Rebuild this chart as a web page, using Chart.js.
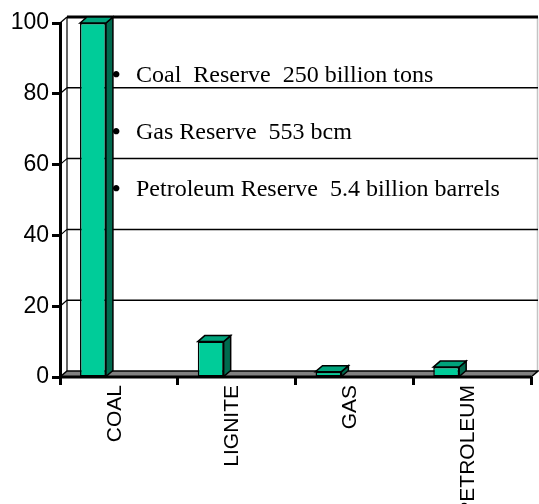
<!DOCTYPE html>
<html>
<head>
<meta charset="utf-8">
<script src="https://cdn.jsdelivr.net/npm/chart.js@4/dist/chart.umd.min.js"></script>
<style>
  html, body { margin: 0; padding: 0; background: #fff; }
  #wrap { width: 539px; height: 504px; }
</style>
</head>
<body>
<div id="wrap"><canvas id="reserves-chart"></canvas></div>
<script>
// Energy reserves - column chart drawn with a 3D look

const categories = ['COAL', 'LIGNITE', 'GAS', 'PETROLEUM'];
const reserveShare = [100, 10, 1.5, 2.8];
const spacer = [null, null, null, null];
const yTickValues = [0, 20, 40, 60, 80, 100];
const reserveNotes = [
    'Coal  Reserve  250 billion tons',
    'Gas Reserve  553 bcm',
    'Petroleum Reserve  5.4 billion barrels'
];

// depth of the fake 3D box
const DEPTH_X = 7;
const DEPTH_Y = -6;

function polygon(ctx, pts, fill, stroke, width) {
    ctx.beginPath();
    ctx.moveTo(pts[0][0], pts[0][1]);
    for (let i = 1; i < pts.length; i++) ctx.lineTo(pts[i][0], pts[i][1]);
    ctx.closePath();
    if (fill) {
        ctx.fillStyle = fill;
        ctx.fill();
    }
    if (stroke) {
        ctx.strokeStyle = stroke;
        ctx.lineWidth = width;
        ctx.stroke();
    }
}

// side wall, back wall grid lines and the floor
const wallsPlugin = {
    id: 'walls3d',
    beforeDatasetsDraw(chart) {
        const { ctx, chartArea: a, scales: { y } } = chart;
        const backLeft = a.left + DEPTH_X;
        const backRight = a.right + DEPTH_X;
        const topBack = y.getPixelForValue(100) + DEPTH_Y;
        const floorBack = a.bottom + DEPTH_Y;

        ctx.save();
        ctx.lineCap = 'butt';

        // right edge of the back wall
        ctx.strokeStyle = '#c4c4c4';
        ctx.lineWidth = 1.5;
        ctx.beginPath();
        ctx.moveTo(backRight - 0.5, topBack);
        ctx.lineTo(backRight - 0.5, floorBack);
        ctx.stroke();

        // corner between side wall and back wall
        ctx.strokeStyle = '#000';
        ctx.lineWidth = 1.2;
        ctx.beginPath();
        ctx.moveTo(backLeft, topBack);
        ctx.lineTo(backLeft, floorBack);
        ctx.stroke();

        yTickValues.forEach(function(v) {
            if (v === 0) return;
            const py = y.getPixelForValue(v);
            ctx.strokeStyle = '#000';
            ctx.lineWidth = 1.2;
            ctx.beginPath();
            ctx.moveTo(a.left, py);
            ctx.lineTo(backLeft, py + DEPTH_Y);
            ctx.stroke();
            ctx.lineWidth = v === 100 ? 3 : 1.5;
            ctx.beginPath();
            ctx.moveTo(backLeft, py + DEPTH_Y);
            ctx.lineTo(backRight, py + DEPTH_Y);
            ctx.stroke();
        });

        // floor
        polygon(ctx, [
            [a.left, a.bottom],
            [a.right, a.bottom],
            [backRight, floorBack],
            [backLeft, floorBack]
        ], '#808080', '#000', 1.5);
        ctx.lineWidth = 3;
        ctx.beginPath();
        ctx.moveTo(a.left, a.bottom);
        ctx.lineTo(a.right, a.bottom);
        ctx.stroke();

        ctx.restore();
    },
    afterDatasetsDraw(chart) {
        const { ctx } = chart;
        const meta = chart.getDatasetMeta(0);
        ctx.save();
        ctx.lineJoin = 'miter';
        meta.data.forEach(function(bar) {
            const p = bar.getProps(['x', 'y', 'base', 'width'], true);
            const x0 = p.x - p.width / 2;
            const x1 = p.x + p.width / 2;
            // side face
            polygon(ctx, [
                [x1, p.y],
                [x1 + DEPTH_X, p.y + DEPTH_Y],
                [x1 + DEPTH_X, p.base + DEPTH_Y],
                [x1, p.base]
            ], '#006A4E', '#000', 1.5);
            // top face
            polygon(ctx, [
                [x0, p.y],
                [x0 + DEPTH_X, p.y + DEPTH_Y],
                [x1 + DEPTH_X, p.y + DEPTH_Y],
                [x1, p.y]
            ], '#00A37B', '#000', 1.5);
        });
        ctx.restore();
    }
};

// bulleted notes over the plot
const notesPlugin = {
    id: 'reserveNotes',
    afterDraw(chart) {
        const { ctx, chartArea: a } = chart;
        ctx.save();
        ctx.fillStyle = '#000';
        ctx.textBaseline = 'middle';
        reserveNotes.forEach(function(text, i) {
            const py = a.top + 53 + i * 57;
            ctx.font = 'bold 24px "Liberation Serif", "Times New Roman", serif';
            ctx.fillText('\u2022', a.left + 52, py);
            ctx.font = '24px "Liberation Serif", "Times New Roman", serif';
            ctx.fillText(text, a.left + 76, py);
        });
        ctx.restore();
    }
};

Chart.defaults.font.family = '"Liberation Sans", Arial, sans-serif';
Chart.defaults.color = '#000';

new Chart(document.getElementById('reserves-chart'), {
    type: 'bar',
    data: {
        labels: categories,
        datasets: [
            {
                label: 'Reserves',
                data: reserveShare,
                backgroundColor: '#00CC99',
                borderColor: '#000',
                borderWidth: 1.5,
                borderSkipped: false
            },
            {
                label: '',
                data: spacer
            }
        ]
    },
    options: {
        responsive: true,
        maintainAspectRatio: false,
        animation: false,
        categoryPercentage: 0.88,
        barPercentage: 0.5,
        layout: {
            padding: { top: 23, right: 8, left: 0, bottom: 0 }
        },
        scales: {
            x: {
                grid: {
                    offset: true,
                    drawOnChartArea: false,
                    drawTicks: true,
                    tickLength: 8,
                    tickWidth: 3,
                    tickColor: '#000'
                },
                border: { display: false },
                ticks: {
                    autoSkip: false,
                    minRotation: 90,
                    maxRotation: 90,
                    padding: 0,
                    labelOffset: -4,
                    font: { size: 21 }
                },
                afterFit: function(scale) {
                    scale.height = 127;
                }
            },
            y: {
                min: 0,
                max: 100,
                afterBuildTicks: function(scale) {
                    scale.ticks = yTickValues.map(function(v) { return { value: v }; });
                },
                grid: {
                    drawOnChartArea: false,
                    drawTicks: true,
                    tickLength: 8,
                    tickWidth: 3,
                    tickColor: '#000'
                },
                border: { display: true, color: '#000', width: 3 },
                ticks: {
                    padding: 3,
                    font: { size: 23 }
                },
                afterFit: function(scale) {
                    scale.width = 60;
                }
            }
        },
        plugins: {
            legend: { display: false },
            tooltip: { enabled: false }
        }
    },
    plugins: [wallsPlugin, notesPlugin]
});
</script>
</body>
</html>
